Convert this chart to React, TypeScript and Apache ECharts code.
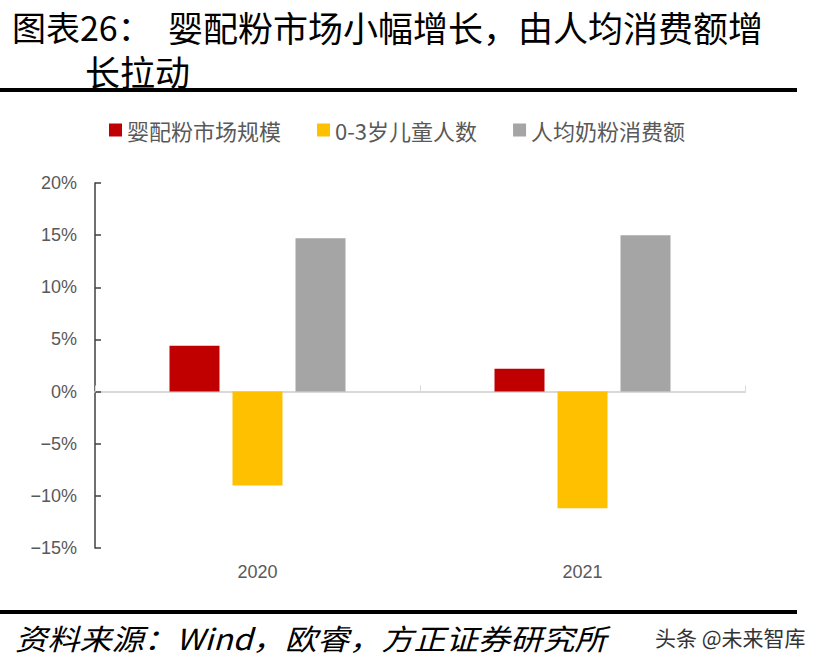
import React, { useEffect, useRef } from "react";
import * as echarts from "echarts";

const categories = ["2020", "2021"];
const seriesNames = ["婴配粉市场规模", "0-3岁儿童人数", "人均奶粉消费额"];
const marketSize = [4.4, 2.2];
const children = [-9.0, -11.2];
const perCapita = [14.7, 15.0];
const colors = ["#C00000", "#FFC000", "#A5A5A5"];
const yMin = -15;
const yMax = 20;
const yInterval = 5;

export default function App() {
  const ref = useRef<HTMLDivElement>(null);
  useEffect(() => {
    if (!ref.current) return;
    const chart = echarts.init(ref.current, null, { renderer: "svg" });
    const values = [marketSize, children, perCapita];
    const cjk = "'Noto Sans CJK SC', sans-serif";
    chart.setOption({
      animation: false,
      backgroundColor: "#ffffff",
      legend: {
        top: 114,
        left: 104,
        itemWidth: 13,
        itemHeight: 13,
        itemGap: 36,
        icon: "rect",
        data: seriesNames,
        textStyle: { fontSize: 22, color: "#595959", fontFamily: cjk },
      },
      grid: { left: 95, right: 83, top: 183, bottom: 122, containLabel: false },
      xAxis: [
        {
          type: "category",
          data: categories,
          position: "bottom",
          axisLine: { show: false, onZero: false },
          axisTick: { show: false },
          axisLabel: {
            fontSize: 18,
            color: "#595959",
            fontFamily: "'Liberation Sans', Arial, sans-serif",
            margin: 15,
          },
        },
        {
          type: "category",
          data: categories,
          position: "bottom",
          axisLine: { show: true, onZero: true, lineStyle: { color: "#D9D9D9", width: 2 } },
          axisTick: { show: true, inside: true, length: 6, lineStyle: { color: "#D9D9D9", width: 1 } },
          axisLabel: { show: false },
        },
      ],
      yAxis: {
        type: "value",
        min: yMin,
        max: yMax,
        interval: yInterval,
        splitLine: { show: false },
        axisLine: { show: true, lineStyle: { color: "#404040", width: 1.5 } },
        axisTick: { show: true, inside: true, length: 6, lineStyle: { color: "#404040", width: 1.5 } },
        axisLabel: {
          fontSize: 18,
          color: "#595959",
          fontFamily: "'Liberation Sans', Arial, sans-serif",
          margin: 18,
          formatter: (v: number) => `${v}%`.replace("-", "\u2212"),
        },
      },
      series: seriesNames.map((name, i) => ({
        name,
        type: "bar",
        xAxisIndex: 0,
        data: values[i],
        barWidth: 50,
        barGap: "26%",
        itemStyle: { color: colors[i] },
      })),
      graphic: [
        {
          type: "text",
          x: 12,
          y: 26,
          style: { text: "图表26：", fontSize: 34, fill: "#000", fontFamily: cjk, verticalAlign: "middle" },
        },
        {
          type: "text",
          x: 168,
          y: 26,
          style: { text: "婴配粉市场小幅增长，由人均消费额增", fontSize: 35, fill: "#000", fontFamily: cjk, verticalAlign: "middle" },
        },
        {
          type: "text",
          x: 85,
          y: 70,
          style: { text: "长拉动", fontSize: 35, fill: "#000", fontFamily: cjk, verticalAlign: "middle" },
        },
        {
          type: "rect",
          shape: { x: 0, y: 88, width: 797, height: 4 },
          style: { fill: "#000" },
        },
        {
          type: "rect",
          shape: { x: 0, y: 610, width: 797, height: 4 },
          style: { fill: "#000" },
        },
        {
          type: "text",
          x: 15,
          y: 637,
          scaleX: 1.11,
          style: {
            text: "资料来源：Wind，欧睿，方正证券研究所",
            fontSize: 29,
            fontStyle: "italic",
            fill: "#000",
            fontFamily: cjk,
            verticalAlign: "middle",
          },
        },
        {
          type: "text",
          x: 655,
          y: 637,
          style: {
            text: "头条 @未来智库",
            fontSize: 21,
            fill: "#333",
            fontFamily: cjk,
            stroke: "#fff",
            lineWidth: 2,
            verticalAlign: "middle",
          },
        },
      ],
    });
    return () => chart.dispose();
  }, []);
  return (
    <div
      ref={ref}
      style={{ position: "absolute", left: 0, top: 0, width: 828, height: 670 }}
    />
  );
}
